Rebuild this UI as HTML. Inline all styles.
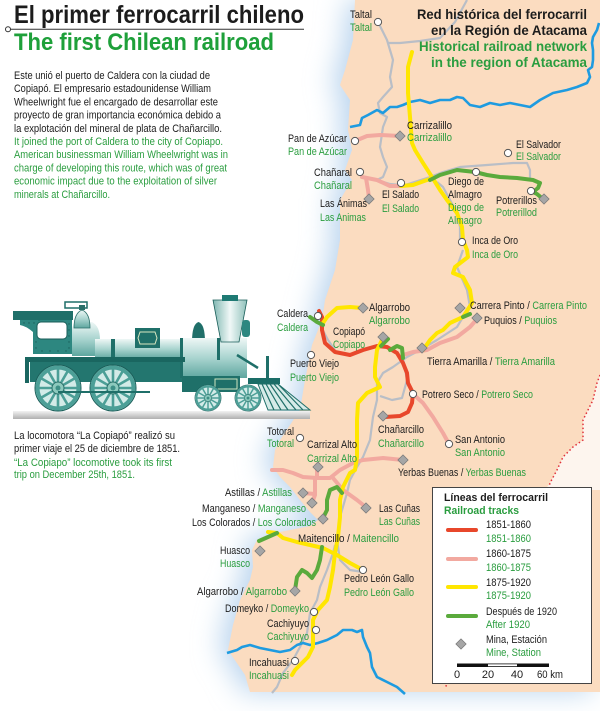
<!DOCTYPE html>
<html><head><meta charset="utf-8"><style>
html,body{margin:0;padding:0;background:#fff;}
svg{display:block;font-family:"Liberation Sans Narrow","Liberation Sans",sans-serif;}
.b{fill:#1c1c1c}.g{fill:#2a9d3f}
.t{font-size:11px}
</style></head><body>
<svg width="600" height="711" viewBox="0 0 600 711" xmlns="http://www.w3.org/2000/svg">
<defs>
<filter id="blur" x="-30%" y="-30%" width="160%" height="160%"><feGaussianBlur stdDeviation="14"/></filter>
<linearGradient id="gB" x1="0" y1="0" x2="0" y2="1"><stop offset="0" stop-color="#eef7f6"/><stop offset="0.5" stop-color="#a9d4cf"/><stop offset="1" stop-color="#5ea69f"/></linearGradient>
<linearGradient id="gC" x1="0" y1="0" x2="1" y2="0"><stop offset="0" stop-color="#7fb7b1"/><stop offset="0.5" stop-color="#f0f8f7"/><stop offset="1" stop-color="#8fc1bb"/></linearGradient>
<linearGradient id="gR" x1="0" y1="0" x2="0" y2="1"><stop offset="0" stop-color="#f2f2f2"/><stop offset="1" stop-color="#b0b0b0"/></linearGradient>
<g id="wheel">
<circle r="23" fill="#d3ebe8" stroke="#1a5e59" stroke-width="1"/>
<circle r="20.5" fill="none" stroke="#4c9f97" stroke-width="4"/>
<g stroke="#4c9f97" stroke-width="2.6">
<line x1="-19" y1="0" x2="19" y2="0"/><line x1="-16.5" y1="-9.5" x2="16.5" y2="9.5"/><line x1="-9.5" y1="-16.5" x2="9.5" y2="16.5"/>
<line x1="0" y1="-19" x2="0" y2="19"/><line x1="9.5" y1="-16.5" x2="-9.5" y2="16.5"/><line x1="16.5" y1="-9.5" x2="-16.5" y2="9.5"/>
</g>
<circle r="6" fill="#8cc9bd" stroke="#2a6f69" stroke-width="1"/>
<circle r="2.5" fill="#3e8f86"/>
</g>
<g id="dia"><rect x="-3.6" y="-3.6" width="7.2" height="7.2" transform="rotate(45)" fill="#a6a6a6" stroke="#7d7d7d" stroke-width="0.8"/></g>
<g id="cir"><circle r="3.6" fill="#fff" stroke="#555" stroke-width="1"/></g>
</defs>

<!-- sea glow -->
<path transform="translate(-8,0)" filter="url(#blur)" fill="#b9d4ee" d="M355,0 L600,0 L600,692 L250,692 L245,675 L228,650 L233,625 L240,600 L250,580 L253,567 L252,550 L257,540 L270,534 L290,530 L310,526 L318,520 L310,512 L300,500 L290,487 L280,477 L273,467 L275,450 L280,440 L290,425 L300,410 L305,380 L312,345 L322,320 L325,300 L335,270 L340,240 L340,200 L352,180 L345,170 L352,150 L348,130 L350,100 L340,85 L345,70 L353,40 Z"/>
<!-- land -->
<path fill="#fbdcc0" d="M355,0 L600,0 L600,692 L250,692 L245,675 L228,650 L233,625 L240,600 L250,580 L253,567 L252,550 L257,540 L270,534 L290,530 L310,526 L318,520 L310,512 L300,500 L290,487 L280,477 L273,467 L275,450 L280,440 L290,425 L300,410 L305,380 L312,345 L322,320 L325,300 L335,270 L340,240 L340,200 L352,180 L345,170 L352,150 L348,130 L350,100 L340,85 L345,70 L353,40 Z"/>
<!-- Argentina patch -->
<path fill="#fdf5ee" d="M600,375 L597,383 L593,400 L583,420 L583,440 L573,447 L563,457 L557,470 L550,483 L545,490 L600,490 Z"/>
<path fill="none" stroke="#e0303a" stroke-width="1.5" stroke-dasharray="1.5,2.5" d="M600,375 L597,383 L593,400 L583,420 L583,440 L573,447 L563,457 L557,470 L550,483 L540,520 L500,590 L470,640 L445,688"/>

<!-- gray roads -->
<g fill="none" stroke="#b9bec6" stroke-width="2.2" stroke-linejoin="round">
<path d="M378,22 L387,40 L393,60 L390,77 L392,87 L383,97 L378,103 L380,113 L387,117 L383,127 L380,147 L383,157 L387,167 L383,177 L377,180 L390,184 L401,185"/>
<path d="M387,43 L400,43 L420,41 L440,38 L455,22 L467,0"/>
<path d="M405,185 L430,177 L443,172 L460,167 L487,165 L513,163 L527,163 L530,170 L530,180"/>
<path d="M437,182 L443,187 L450,200 L457,213 L460,227 L460,240"/>
<path d="M463,250 L457,267 L467,290 L470,307 L463,317 L457,327 L437,340 L420,350 L407,357 L393,367 L383,373 L377,383 L377,400 L373,417 L370,440 L363,457 L357,467 L350,480 L347,493 L340,517 L337,540 L340,560 L350,570 L363,572"/>
<path d="M320,325 L328,340 L335,350"/>
<path d="M403,358 L407,380 L402,398 L392,400 L380,396"/>
<path d="M335,545 L333,553 L327,570 L320,587 L317,600 L310,613 L307,633 L300,647 L293,660 L283,673 L277,687 L272,693"/>
</g>

<!-- rivers -->
<g fill="none" stroke="#1e9be0" stroke-width="2.6" stroke-linejoin="round">
<path d="M350,127 L360,125 L362,118 L368,115 L377,110 L383,113 L390,107 L397,107 L403,105 L410,102 L420,100 L430,103 L440,100 L450,100 L457,97 L463,98 L470,105 L480,107 L490,103 L500,105 L510,103 L520,105 L530,107 L540,100 L553,93 L567,90 L577,87 L587,83 L590,77 L588,70 L592,67 L593,60 L593,50 L592,43 L593,37 L597,30 L599,23"/>
<path d="M227,653 L237,650 L242,647 L250,645 L260,648 L270,650 L280,652 L290,650 L297,645 L303,643 L310,645 L318,643 L327,640 L337,635 L343,630 L352,630 L357,632 L362,630 L363,637 L367,647 L370,653 L372,667 L377,677 L387,682 L397,687 L405,694"/>
</g>

<!-- railways -->
<g fill="none" stroke-width="4" stroke-linecap="round" stroke-linejoin="round">
<g stroke="#f2a9a0">
<path d="M355,141 L367,136 L380,135 L400,136"/>
<path d="M362,177 L377,180 L390,186 L401,186"/>
<path d="M366,178 L368,190 L369,198"/>
<path d="M403,355 L413,352 L427,350 L440,343 L457,337 L470,327 L477,319"/>
<path d="M413,394 L423,403 L433,417 L443,433 L449,444"/>
<path d="M403,460 L383,458 L363,460 L353,463 L340,470 L330,478 L317,478 L303,477 L293,473 L283,470 L272,470"/>
<path d="M317,466 L317,478"/>
<path d="M315,478 L315,495 L312,503"/>
<path d="M303,493 L315,494"/>
<path d="M333,478 L343,490 L357,500 L367,508"/>
</g>
<path stroke="#e8472b" d="M319,311 L322,317 L322,330 L325,343 L335,352 L350,355 L363,350 L377,346 L387,347 L397,353 L403,363 L407,373 L408,383 L413,393 L412,403 L408,412 L400,416 L385,417"/>
<g stroke="#ffe600">
<path d="M412,52 L408,67 L408,93 L410,117 L412,143 L415,150 L423,163 L432,177 L440,190 L447,200 L457,213 L462,227 L463,240 L467,250 L468,257 L455,267 L453,273 L463,277 L470,290 L472,303 L463,317 L450,323 L443,330 L437,333 L430,340 L423,350"/>
<path d="M401,186 L413,185 L427,180 L433,178"/>
<path d="M323,323 L327,317 L337,308 L350,307 L362,308"/>
<path d="M382,340 L377,350 L375,367 L375,377 L380,387 L367,393 L358,403 L357,420 L357,440 L357,457 L355,470 L350,473 L343,487 L340,500 L340,517 L338,537 L335,553 L333,570 L330,587 L327,600 L318,610 L313,620 L313,633 L313,647 L308,657 L302,663 L295,670 L292,675"/>
<path d="M268,532 L277,533 L283,538 L297,542 L310,545 L323,548 L337,555 L350,563 L363,570"/>
</g>
<g stroke="#5aaa3c">
<path d="M430,180 L440,175 L457,170 L475,172 L487,175 L500,177 L517,178 L533,180 L540,183 L538,188 L533,192 L537,194 L543,199"/>
<path d="M310,317 L317,322 L323,325"/>
<path d="M381,346 L388,339"/>
<path d="M390,350 L397,346 L402,348 L403,358"/>
<path d="M463,317 L470,314"/>
<path d="M342,493 L337,487 L330,490 L327,500 L327,510 L323,518"/>
<path d="M259,541 L268,537 L277,533"/>
<path d="M322,547 L320,560 L317,570 L312,578 L307,573 L302,570 L297,577 L295,590"/>
</g>
</g>

<!-- markers -->
<use href="#cir" x="378" y="22"/>
<use href="#cir" x="355" y="141"/>
<use href="#dia" x="400" y="136"/>
<use href="#cir" x="360" y="172"/>
<use href="#dia" x="369" y="199"/>
<use href="#cir" x="401" y="183"/>
<use href="#cir" x="476" y="172"/>
<use href="#cir" x="508" y="153"/>
<use href="#cir" x="531" y="191"/>
<use href="#dia" x="544" y="199"/>
<use href="#cir" x="462" y="242"/>
<use href="#dia" x="460" y="308"/>
<use href="#dia" x="477" y="318"/>
<use href="#dia" x="422" y="348"/>
<use href="#cir" x="318" y="316"/>
<use href="#dia" x="363" y="308"/>
<use href="#dia" x="383" y="337"/>
<use href="#cir" x="311" y="355"/>
<use href="#cir" x="413" y="394"/>
<use href="#dia" x="383" y="416"/>
<use href="#cir" x="449" y="444"/>
<use href="#cir" x="300" y="438"/>
<use href="#dia" x="318" y="467"/>
<use href="#dia" x="403" y="460"/>
<use href="#dia" x="303" y="493"/>
<use href="#dia" x="312" y="503"/>
<use href="#dia" x="323" y="519"/>
<use href="#dia" x="366" y="508"/>
<use href="#dia" x="260" y="551"/>
<use href="#cir" x="363" y="570"/>
<use href="#dia" x="295" y="591"/>
<use href="#cir" x="314" y="612"/>
<use href="#cir" x="316" y="630"/>
<use href="#cir" x="295" y="661"/>

<!-- title -->
<text x="14" y="23" font-size="25" font-weight="bold" class="b" textLength="290" lengthAdjust="spacingAndGlyphs">El primer ferrocarril chileno</text>
<line x1="8" y1="29.3" x2="304" y2="29.3" stroke="#333" stroke-width="1"/>
<circle cx="8" cy="29.3" r="2.5" fill="#fff" stroke="#333" stroke-width="1"/>
<text x="14" y="50" font-size="24" font-weight="bold" fill="#1ea03a" textLength="260" lengthAdjust="spacingAndGlyphs">The first Chilean railroad</text>

<!-- paragraph -->
<g class="t">
<text class="b" x="14" y="79" textLength="196" lengthAdjust="spacingAndGlyphs">Este unió el puerto de Caldera con la ciudad de</text>
<text class="b" x="14" y="92.2" textLength="197" lengthAdjust="spacingAndGlyphs">Copiapó. El empresario estadounidense William</text>
<text class="b" x="14" y="105.4" textLength="204" lengthAdjust="spacingAndGlyphs">Wheelwright fue el encargado de desarrollar este</text>
<text class="b" x="14" y="118.6" textLength="207" lengthAdjust="spacingAndGlyphs">proyecto de gran importancia económica debido a</text>
<text class="b" x="14" y="131.8" textLength="208" lengthAdjust="spacingAndGlyphs">la explotación del mineral de plata de Chañarcillo.</text>
<text class="g" x="14" y="145" textLength="209" lengthAdjust="spacingAndGlyphs">It joined the port of Caldera to the city of Copiapo.</text>
<text class="g" x="14" y="158.2" textLength="214" lengthAdjust="spacingAndGlyphs">American businessman William Wheelwright was in</text>
<text class="g" x="14" y="171.4" textLength="213" lengthAdjust="spacingAndGlyphs">charge of developing this route, which was of great</text>
<text class="g" x="14" y="184.6" textLength="203" lengthAdjust="spacingAndGlyphs">economic impact due to the exploitation of silver</text>
<text class="g" x="14" y="197.8" textLength="96" lengthAdjust="spacingAndGlyphs">minerals at Chañarcillo.</text>

<text class="b" x="14" y="439" textLength="161" lengthAdjust="spacingAndGlyphs">La locomotora “La Copiapó” realizó su</text>
<text class="b" x="14" y="452" textLength="166" lengthAdjust="spacingAndGlyphs">primer viaje el 25 de diciembre de 1851.</text>
<text class="g" x="14" y="466" textLength="158" lengthAdjust="spacingAndGlyphs">“La Copiapo” locomotive took its first</text>
<text class="g" x="14" y="478" textLength="121" lengthAdjust="spacingAndGlyphs">trip on December 25th, 1851.</text>
</g>

<!-- heading top right -->
<g font-size="14" font-weight="bold">
<text class="b" x="417" y="19" textLength="170" lengthAdjust="spacingAndGlyphs">Red histórica del ferrocarril</text>
<text class="b" x="431" y="35" textLength="156" lengthAdjust="spacingAndGlyphs">en la Región de Atacama</text>
<text class="g" x="419" y="51" textLength="168" lengthAdjust="spacingAndGlyphs">Historical railroad network</text>
<text class="g" x="431" y="67" textLength="156" lengthAdjust="spacingAndGlyphs">in the region of Atacama</text>
</g>

<!-- node labels -->
<g class="t">
<text class="b" x="350" y="18" textLength="22" lengthAdjust="spacingAndGlyphs">Taltal</text>
<text class="g" x="350" y="31" textLength="22" lengthAdjust="spacingAndGlyphs">Taltal</text>
<text class="b" x="288" y="142" textLength="59" lengthAdjust="spacingAndGlyphs">Pan de Azúcar</text>
<text class="g" x="288" y="155" textLength="59" lengthAdjust="spacingAndGlyphs">Pan de Azúcar</text>
<text class="b" x="407" y="129" textLength="45" lengthAdjust="spacingAndGlyphs">Carrizalillo</text>
<text class="g" x="407" y="141" textLength="45" lengthAdjust="spacingAndGlyphs">Carrizalillo</text>
<text class="b" x="314" y="176" textLength="38" lengthAdjust="spacingAndGlyphs">Chañaral</text>
<text class="g" x="314" y="189" textLength="38" lengthAdjust="spacingAndGlyphs">Chañaral</text>
<text class="b" x="320" y="207" textLength="47" lengthAdjust="spacingAndGlyphs">Las Ánimas</text>
<text class="g" x="320" y="221" textLength="46" lengthAdjust="spacingAndGlyphs">Las Animas</text>
<text class="b" x="382" y="198" textLength="37" lengthAdjust="spacingAndGlyphs">El Salado</text>
<text class="g" x="382" y="212" textLength="37" lengthAdjust="spacingAndGlyphs">El Salado</text>
<text class="b" x="448" y="185" textLength="36" lengthAdjust="spacingAndGlyphs">Diego de</text>
<text class="b" x="448" y="198" textLength="34" lengthAdjust="spacingAndGlyphs">Almagro</text>
<text class="g" x="448" y="211" textLength="36" lengthAdjust="spacingAndGlyphs">Diego de</text>
<text class="g" x="448" y="224" textLength="34" lengthAdjust="spacingAndGlyphs">Almagro</text>
<text class="b" x="516" y="148" textLength="45" lengthAdjust="spacingAndGlyphs">El Salvador</text>
<text class="g" x="516" y="160" textLength="45" lengthAdjust="spacingAndGlyphs">El Salvador</text>
<text class="b" x="496" y="204" textLength="41" lengthAdjust="spacingAndGlyphs">Potrerillos</text>
<text class="g" x="496" y="216" textLength="41" lengthAdjust="spacingAndGlyphs">Potrerillod</text>
<text class="b" x="472" y="244" textLength="46" lengthAdjust="spacingAndGlyphs">Inca de Oro</text>
<text class="g" x="472" y="258" textLength="46" lengthAdjust="spacingAndGlyphs">Inca de Oro</text>
<text x="470" y="309" textLength="117" lengthAdjust="spacingAndGlyphs"><tspan class="b">Carrera Pinto / </tspan><tspan class="g">Carrera Pinto</tspan></text>
<text x="484" y="324" textLength="73" lengthAdjust="spacingAndGlyphs"><tspan class="b">Puquios / </tspan><tspan class="g">Puquios</tspan></text>
<text x="427" y="365" textLength="128" lengthAdjust="spacingAndGlyphs"><tspan class="b">Tierra Amarilla / </tspan><tspan class="g">Tierra Amarilla</tspan></text>
<text class="b" x="277" y="317" textLength="31" lengthAdjust="spacingAndGlyphs">Caldera</text>
<text class="g" x="277" y="331" textLength="31" lengthAdjust="spacingAndGlyphs">Caldera</text>
<text class="b" x="369" y="311" textLength="41" lengthAdjust="spacingAndGlyphs">Algarrobo</text>
<text class="g" x="369" y="324" textLength="41" lengthAdjust="spacingAndGlyphs">Algarrobo</text>
<text class="b" x="333" y="335" textLength="32" lengthAdjust="spacingAndGlyphs">Copiapó</text>
<text class="g" x="333" y="348" textLength="32" lengthAdjust="spacingAndGlyphs">Copiapo</text>
<text class="b" x="290" y="367" textLength="49" lengthAdjust="spacingAndGlyphs">Puerto Viejo</text>
<text class="g" x="290" y="381" textLength="49" lengthAdjust="spacingAndGlyphs">Puerto Viejo</text>
<text x="422" y="398" textLength="111" lengthAdjust="spacingAndGlyphs"><tspan class="b">Potrero Seco / </tspan><tspan class="g">Potrero Seco</tspan></text>
<text class="b" x="378" y="433" textLength="46" lengthAdjust="spacingAndGlyphs">Chañarcillo</text>
<text class="g" x="378" y="447" textLength="46" lengthAdjust="spacingAndGlyphs">Chañarcillo</text>
<text class="b" x="455" y="443" textLength="50" lengthAdjust="spacingAndGlyphs">San Antonio</text>
<text class="g" x="455" y="456" textLength="50" lengthAdjust="spacingAndGlyphs">San Antonio</text>
<text class="b" x="267" y="435" textLength="27" lengthAdjust="spacingAndGlyphs">Totoral</text>
<text class="g" x="267" y="447" textLength="27" lengthAdjust="spacingAndGlyphs">Totoral</text>
<text class="b" x="307" y="448" textLength="50" lengthAdjust="spacingAndGlyphs">Carrizal Alto</text>
<text class="g" x="307" y="462" textLength="50" lengthAdjust="spacingAndGlyphs">Carrizal Alto</text>
<text x="398" y="476" textLength="128" lengthAdjust="spacingAndGlyphs"><tspan class="b">Yerbas Buenas / </tspan><tspan class="g">Yerbas Buenas</tspan></text>
<text x="225" y="496" textLength="67" lengthAdjust="spacingAndGlyphs"><tspan class="b">Astillas / </tspan><tspan class="g">Astillas</tspan></text>
<text x="202" y="512" textLength="104" lengthAdjust="spacingAndGlyphs"><tspan class="b">Manganeso / </tspan><tspan class="g">Manganeso</tspan></text>
<text x="192" y="526" textLength="124" lengthAdjust="spacingAndGlyphs"><tspan class="b">Los Colorados / </tspan><tspan class="g">Los Colorados</tspan></text>
<text class="b" x="379" y="512" textLength="41" lengthAdjust="spacingAndGlyphs">Las Cuñas</text>
<text class="g" x="379" y="525" textLength="41" lengthAdjust="spacingAndGlyphs">Las Cuñas</text>
<text x="298" y="542" textLength="101" lengthAdjust="spacingAndGlyphs"><tspan class="b">Maitencillo / </tspan><tspan class="g">Maitencillo</tspan></text>
<text class="b" x="220" y="554" textLength="30" lengthAdjust="spacingAndGlyphs">Huasco</text>
<text class="g" x="220" y="567" textLength="30" lengthAdjust="spacingAndGlyphs">Huasco</text>
<text class="b" x="344" y="582" textLength="70" lengthAdjust="spacingAndGlyphs">Pedro León Gallo</text>
<text class="g" x="344" y="596" textLength="70" lengthAdjust="spacingAndGlyphs">Pedro León Gallo</text>
<text x="197" y="595" textLength="90" lengthAdjust="spacingAndGlyphs"><tspan class="b">Algarrobo / </tspan><tspan class="g">Algarrobo</tspan></text>
<text x="225" y="612" textLength="84" lengthAdjust="spacingAndGlyphs"><tspan class="b">Domeyko / </tspan><tspan class="g">Domeyko</tspan></text>
<text class="b" x="267" y="627" textLength="42" lengthAdjust="spacingAndGlyphs">Cachiyuyo</text>
<text class="g" x="267" y="640" textLength="42" lengthAdjust="spacingAndGlyphs">Cachiyuyo</text>
<text class="b" x="249" y="666" textLength="40" lengthAdjust="spacingAndGlyphs">Incahuasi</text>
<text class="g" x="249" y="679" textLength="40" lengthAdjust="spacingAndGlyphs">Incahuasi</text>
</g>

<!-- legend -->
<rect x="432.5" y="487.5" width="159" height="196" fill="#fff" stroke="#444" stroke-width="1"/>
<text class="b" x="444" y="501" font-size="11" font-weight="bold" textLength="104" lengthAdjust="spacingAndGlyphs">Líneas del ferrocarril</text>
<text class="g" x="444" y="514" font-size="11" font-weight="bold" textLength="75" lengthAdjust="spacingAndGlyphs">Railroad tracks</text>
<g stroke-width="4" stroke-linecap="round">
<line x1="448" y1="530" x2="476" y2="530" stroke="#e8472b"/>
<line x1="448" y1="559" x2="476" y2="559" stroke="#f2a9a0"/>
<line x1="448" y1="587" x2="476" y2="587" stroke="#ffe600"/>
<line x1="448" y1="616" x2="476" y2="616" stroke="#5aaa3c"/>
</g>
<use href="#dia" x="461" y="644"/>
<g class="t">
<text class="b" x="486" y="528" textLength="45" lengthAdjust="spacingAndGlyphs">1851-1860</text>
<text class="g" x="486" y="542" textLength="45" lengthAdjust="spacingAndGlyphs">1851-1860</text>
<text class="b" x="486" y="557" textLength="45" lengthAdjust="spacingAndGlyphs">1860-1875</text>
<text class="g" x="486" y="571" textLength="45" lengthAdjust="spacingAndGlyphs">1860-1875</text>
<text class="b" x="486" y="586" textLength="45" lengthAdjust="spacingAndGlyphs">1875-1920</text>
<text class="g" x="486" y="599" textLength="45" lengthAdjust="spacingAndGlyphs">1875-1920</text>
<text class="b" x="486" y="615" textLength="71" lengthAdjust="spacingAndGlyphs">Después de 1920</text>
<text class="g" x="486" y="628" textLength="44" lengthAdjust="spacingAndGlyphs">After 1920</text>
<text class="b" x="486" y="643" textLength="61" lengthAdjust="spacingAndGlyphs">Mina, Estación</text>
<text class="g" x="486" y="656" textLength="55" lengthAdjust="spacingAndGlyphs">Mine, Station</text>
<text class="b" x="457" y="678" text-anchor="middle">0</text>
<text class="b" x="488" y="678" text-anchor="middle">20</text>
<text class="b" x="517" y="678" text-anchor="middle">40</text>
<text class="b" x="537" y="678" textLength="26" lengthAdjust="spacingAndGlyphs">60 km</text>
</g>
<rect x="457" y="663.5" width="92" height="3.5" fill="#111"/>
<rect x="488" y="664.3" width="29" height="1.9" fill="#fff"/>

<!-- locomotive -->
<g>
<rect x="13" y="411" width="297" height="8" fill="url(#gR)"/>
<rect x="30" y="360" width="157" height="22" fill="#23766f"/>
<path d="M20,319 H72 V354 H33 V332 Q26,326 20,325 Z" fill="#2d8780"/>
<g fill="#1a5e59">
<circle cx="24" cy="323" r="0.7"/><circle cx="29" cy="323" r="0.7"/><circle cx="34" cy="323" r="0.7"/><circle cx="39" cy="320" r="0.7"/><circle cx="69" cy="324" r="0.7"/><circle cx="69" cy="330" r="0.7"/><circle cx="69" cy="336" r="0.7"/><circle cx="69" cy="342" r="0.7"/><circle cx="69" cy="348" r="0.7"/><circle cx="36" cy="342" r="0.7"/><circle cx="36" cy="348" r="0.7"/><circle cx="42" cy="351" r="0.7"/><circle cx="50" cy="351" r="0.7"/><circle cx="58" cy="351" r="0.7"/><circle cx="66" cy="351" r="0.7"/>
</g>
<rect x="13" y="311" width="60" height="9" fill="#1f6f69"/>
<rect x="65" y="302" width="22" height="6" fill="none" stroke="#1f6f69" stroke-width="1.5"/>
<rect x="37" y="322" width="30" height="17" rx="4" fill="#fff" stroke="#1a5e59" stroke-width="1"/>
<path d="M72,356 V330 Q72,322 82,322 H92 Q100,326 100,340 L102,356 Z" fill="url(#gB)"/>
<path d="M74,328 Q74,313 82,310 Q90,313 90,328 Z" fill="url(#gB)" stroke="#2a6f69" stroke-width="0.8"/>
<rect x="79" y="305" width="6" height="5" fill="#2a6f69"/>
<rect x="95" y="339" width="90" height="20" fill="url(#gB)"/>
<rect x="111" y="339" width="4" height="20" fill="#1f6f69"/>
<rect x="135" y="328" width="25" height="20" fill="#1f7069"/>
<path d="M140,332 H155 L157,338 L155,344 H140 L138,338 Z" fill="none" stroke="#d7e6c0" stroke-width="1"/>
<path d="M192,342 Q192,324 198.5,322 Q205,324 205,342 Z" fill="#1f6f69"/>
<rect x="180" y="338" width="67" height="40" fill="url(#gB)"/>
<rect x="180" y="338" width="3" height="40" fill="#1f6f69"/>
<rect x="217" y="338" width="3" height="22" fill="#1f6f69"/>
<path d="M213,300 L247,300 L239,342 L221,342 Z" fill="url(#gC)" stroke="#1a5e59" stroke-width="0.8"/>
<rect x="222" y="295" width="16" height="6" fill="#1f7a74"/>
<rect x="242" y="320" width="8" height="17" rx="3" fill="#2d8780"/>
<rect x="25" y="357" width="160" height="5" fill="#1a6660"/>
<rect x="25" y="357" width="4" height="26" fill="#1a6660"/>
<rect x="182" y="376" width="58" height="16" fill="#1f7069"/>
<rect x="215" y="379" width="22" height="10" fill="none" stroke="#cde4c0" stroke-width="1"/>
<line x1="237" y1="355" x2="258" y2="368" stroke="#1f6f69" stroke-width="2.5"/>
<rect x="266" y="356" width="3" height="24" fill="#1f6f69"/>
<rect x="248" y="378" width="32" height="6" fill="#1a6d67"/>
<path d="M258,384 L278,384 L310,410 L268,410 Z" fill="#d6ebe8" stroke="#1f6f69" stroke-width="1"/>
<g stroke="#1f6f69" stroke-width="1.2">
<line x1="262" y1="384" x2="274" y2="410"/><line x1="266" y1="384" x2="281" y2="410"/><line x1="270" y1="384" x2="288" y2="410"/><line x1="274" y1="384" x2="296" y2="410"/><line x1="278" y1="384" x2="303" y2="410"/>
</g>
<use href="#wheel" transform="translate(58,388)"/>
<use href="#wheel" transform="translate(113,388)"/>
<use href="#wheel" transform="translate(208,398) scale(0.57)"/>
<use href="#wheel" transform="translate(248,398) scale(0.57)"/>
<line x1="58" y1="392" x2="150" y2="392" stroke="#1f6f69" stroke-width="2"/>
</g>
</svg>
</body></html>
